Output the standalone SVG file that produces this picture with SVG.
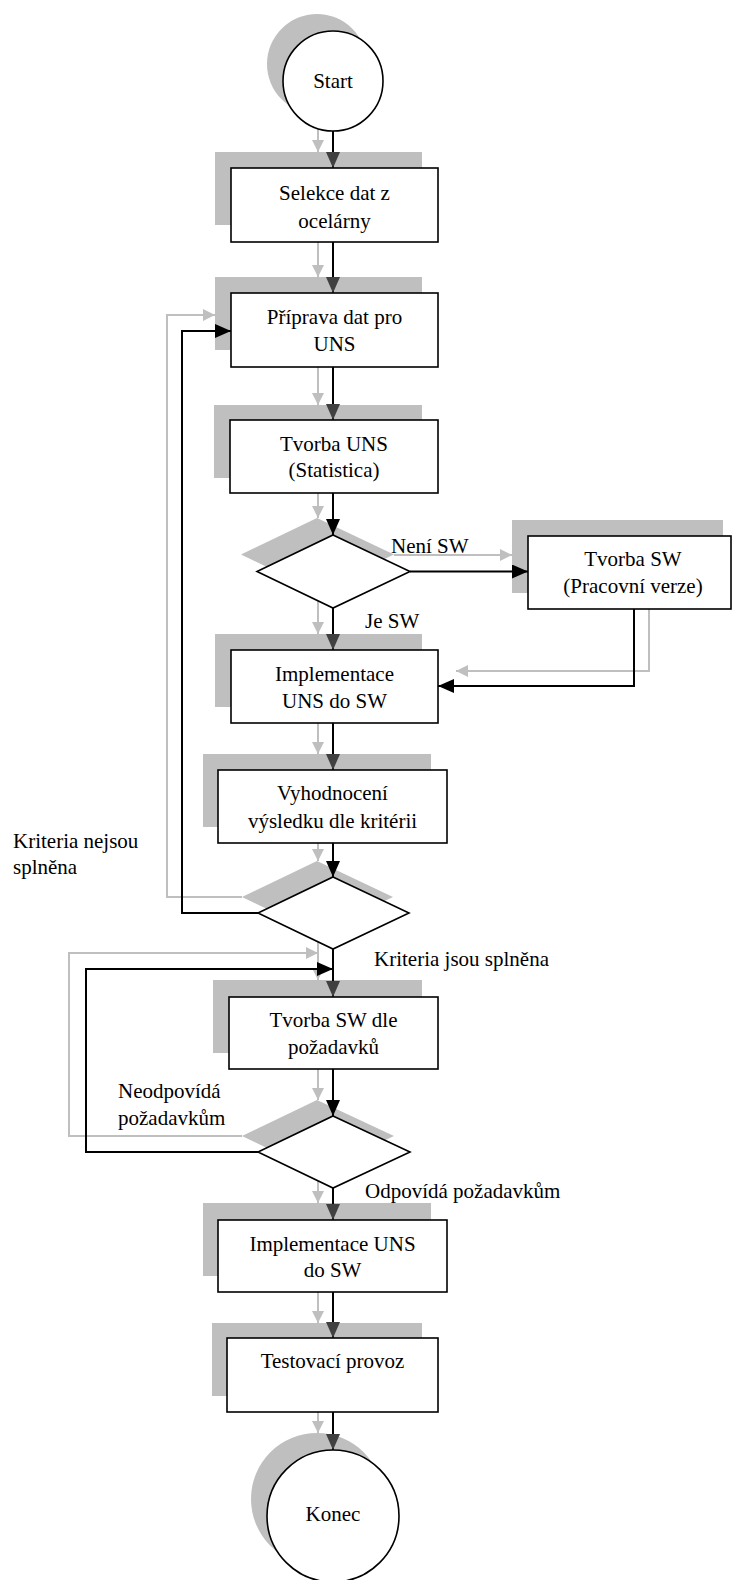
<svg xmlns="http://www.w3.org/2000/svg" width="732" height="1580" viewBox="0 0 732 1580">
<style>
  .bg{fill:#ffffff}
  .sh{fill:#bfbfbf;stroke:none}
  .nd{fill:#ffffff;stroke:#000;stroke-width:1.6}
  .cb{fill:none;stroke:#000;stroke-width:2}
  .cg{fill:none;stroke:#bfbfbf;stroke-width:2}
  text{font-family:"Liberation Serif","Times New Roman",serif;font-size:21px;fill:#000}
  .c{text-anchor:middle}
</style>
<defs>
  <marker id="aB" markerUnits="userSpaceOnUse" markerWidth="16" markerHeight="14" refX="16" refY="7" orient="auto"><path d="M0,0 L16,7 L0,14 z" fill="#000"/></marker>
  <marker id="aD" markerUnits="userSpaceOnUse" markerWidth="16" markerHeight="14" refX="16" refY="7" orient="auto"><path d="M0,0 L16,7 L0,14 z" fill="#404040"/></marker>
  <marker id="aG" markerUnits="userSpaceOnUse" markerWidth="12" markerHeight="12" refX="12" refY="6" orient="auto"><path d="M0,0 L12,6 L0,12 z" fill="#bfbfbf"/></marker>
</defs>
<rect class="bg" x="0" y="0" width="732" height="1580"/>

<g id="shadows">
  <circle class="sh" cx="317" cy="64" r="50"/>
  <rect class="sh" x="215" y="152" width="207" height="73"/>
  <rect class="sh" x="215" y="277" width="207" height="73"/>
  <rect class="sh" x="214" y="405" width="208" height="73"/>
  <polygon class="sh" points="317,518 394,554.5 317,591 241,554.5"/>
  <rect class="sh" x="512" y="520" width="211" height="73"/>
  <rect class="sh" x="215" y="634" width="207" height="73"/>
  <rect class="sh" x="203" y="754" width="228" height="73"/>
  <polygon class="sh" points="317,861 393,897 317,933 242,897"/>
  <rect class="sh" x="213" y="980" width="209" height="73"/>
  <polygon class="sh" points="317,1100 394,1136 317,1172 242,1136"/>
  <rect class="sh" x="203" y="1203" width="228" height="73"/>
  <rect class="sh" x="212" y="1323" width="210" height="73"/>
  <circle class="sh" cx="317" cy="1499" r="66"/>
</g>

<g id="connectors-shadow">
  <path class="cg" d="M318,114 V152" marker-end="url(#aG)"/>
  <path class="cg" d="M318,225 V277" marker-end="url(#aG)"/>
  <path class="cg" d="M318,350 V405" marker-end="url(#aG)"/>
  <path class="cg" d="M318,478 V518" marker-end="url(#aG)"/>
  <path class="cg" d="M394,555 H512" marker-end="url(#aG)"/>
  <path class="cg" d="M318,591 V634" marker-end="url(#aG)"/>
  <path class="cg" d="M649,593 V671 H456" marker-end="url(#aG)"/>
  <path class="cg" d="M318,707 V754" marker-end="url(#aG)"/>
  <path class="cg" d="M318,827 V861" marker-end="url(#aG)"/>
  <path class="cg" d="M242,897 H167 V315 H215" marker-end="url(#aG)"/>
  <path class="cg" d="M318,933 V980" marker-end="url(#aG)"/>
  <path class="cg" d="M242,1136 H69 V953 H318" marker-end="url(#aG)"/>
  <path class="cg" d="M318,1053 V1100" marker-end="url(#aG)"/>
  <path class="cg" d="M318,1172 V1203" marker-end="url(#aG)"/>
  <path class="cg" d="M318,1276 V1323" marker-end="url(#aG)"/>
  <path class="cg" d="M318,1396 V1433" marker-end="url(#aG)"/>
</g>

<g id="start"><circle class="nd" cx="333" cy="81" r="50"/><text class="c" x="333" y="88">Start</text></g>
<g id="selekce"><rect class="nd" x="231" y="168" width="207" height="74"/><text class="c" x="334.5" y="200">Selekce dat z</text><text class="c" x="334.5" y="228">ocelárny</text></g>
<g id="priprava"><rect class="nd" x="231" y="293" width="207" height="74"/><text class="c" x="334.5" y="324">Příprava dat pro</text><text class="c" x="334.5" y="351">UNS</text></g>
<g id="tvorba-uns"><rect class="nd" x="230" y="420" width="208" height="73"/><text class="c" x="334" y="451">Tvorba UNS</text><text class="c" x="334" y="477">(Statistica)</text></g>
<g id="rozhodnuti-sw"><polygon class="nd" points="333,535 410,571.5 333,608 257,571.5"/></g>
<g id="tvorba-sw"><rect class="nd" x="528" y="536" width="203" height="73"/><text class="c" x="633" y="566">Tvorba SW</text><text class="c" x="633" y="593">(Pracovní verze)</text></g>
<g id="implementace-1"><rect class="nd" x="231" y="650" width="207" height="73"/><text class="c" x="334.5" y="681">Implementace</text><text class="c" x="334.5" y="708">UNS do SW</text></g>
<g id="vyhodnoceni"><rect class="nd" x="218" y="770" width="229" height="73"/><text class="c" x="332.5" y="800">Vyhodnocení</text><text class="c" x="332.5" y="828">výsledku dle kritérii</text></g>
<g id="rozhodnuti-kriteria"><polygon class="nd" points="333,877 409,913 333,949 258,913"/></g>
<g id="tvorba-sw-dle"><rect class="nd" x="229" y="997" width="209" height="72"/><text class="c" x="333.5" y="1027">Tvorba SW dle</text><text class="c" x="333.5" y="1054">požadavků</text></g>
<g id="rozhodnuti-pozadavky"><polygon class="nd" points="333,1116 410,1152 333,1188 258,1152"/></g>
<g id="implementace-2"><rect class="nd" x="218" y="1220" width="229" height="72"/><text class="c" x="332.5" y="1251">Implementace UNS</text><text class="c" x="332.5" y="1277">do SW</text></g>
<g id="testovaci"><rect class="nd" x="227" y="1338" width="211" height="74"/><text class="c" x="332.5" y="1368">Testovací provoz</text></g>
<g id="konec"><circle class="nd" cx="333" cy="1516" r="66"/><text class="c" x="333" y="1521">Konec</text></g>

<g id="connectors">
  <path class="cb" d="M333,131 V168" marker-end="url(#aD)"/>
  <path class="cb" d="M333,242 V293" marker-end="url(#aD)"/>
  <path class="cb" d="M333,367 V420" marker-end="url(#aD)"/>
  <path class="cb" d="M333,493 V535" marker-end="url(#aB)"/>
  <path class="cb" d="M410,571.5 H528" marker-end="url(#aB)"/>
  <path class="cb" d="M333,608 V650" marker-end="url(#aD)"/>
  <path class="cb" d="M634,609 V686 H438" marker-end="url(#aB)"/>
  <path class="cb" d="M333,723 V770" marker-end="url(#aD)"/>
  <path class="cb" d="M333,843 V877" marker-end="url(#aB)"/>
  <path class="cb" d="M258,913 H182 V331 H231" marker-end="url(#aB)"/>
  <path class="cb" d="M333,949 V997" marker-end="url(#aD)"/>
  <path class="cb" d="M258,1152 H86 V969 H333" marker-end="url(#aB)"/>
  <path class="cb" d="M333,1069 V1116" marker-end="url(#aB)"/>
  <path class="cb" d="M333,1188 V1220" marker-end="url(#aD)"/>
  <path class="cb" d="M333,1292 V1338" marker-end="url(#aD)"/>
  <path class="cb" d="M333,1412 V1450" marker-end="url(#aD)"/>
</g>

<g id="labels">
  <text x="391" y="553">Není SW</text>
  <text x="365" y="628">Je SW</text>
  <text x="13" y="848">Kriteria nejsou</text>
  <text x="13" y="874">splněna</text>
  <text x="374" y="966">Kriteria jsou splněna</text>
  <text x="118" y="1098">Neodpovídá</text>
  <text x="118" y="1125">požadavkům</text>
  <text x="365" y="1198">Odpovídá požadavkům</text>
</g>
</svg>
